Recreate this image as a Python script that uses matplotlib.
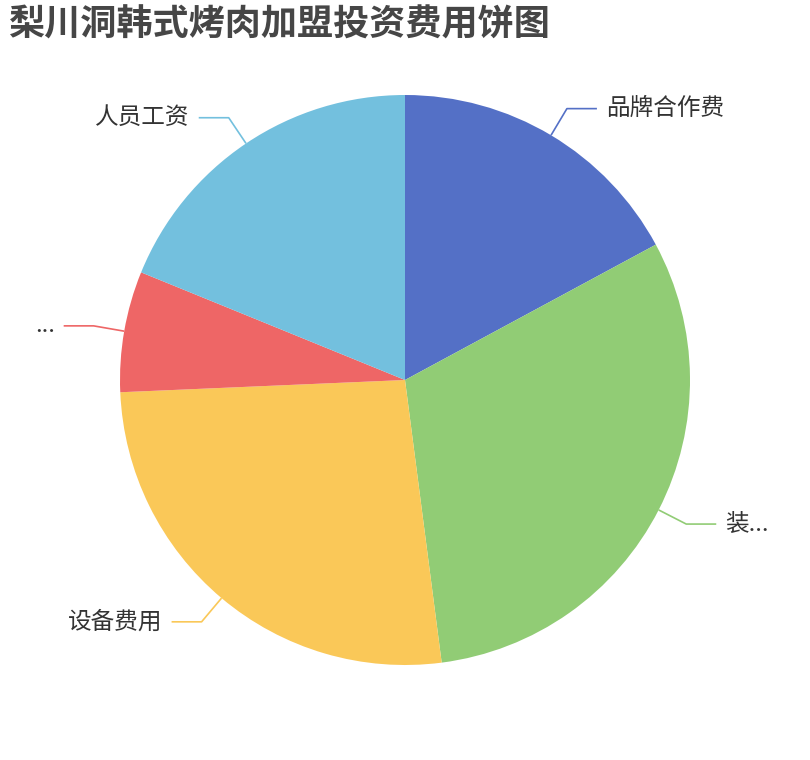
import numpy as np
import matplotlib.pyplot as plt

plt.rcParams['font.family'] = ['Noto Sans CJK SC', 'DejaVu Sans']

# 费用构成（读图估计，单位：万元）
labels = ['品牌合作费', '装...', '设备费用', '...', '人员工资']
values = [5, 9, 7.7, 2, 5.5]
colors = ['#5470c6', '#91cc75', '#fac858', '#ee6666', '#73c0de']

W, H = 810, 760
fig = plt.figure(figsize=(W / 100, H / 100), dpi=100)
ax = fig.add_axes([0, 0, 1, 1])

cx, cy, r = 405, H - 380, 285
wedges, _ = ax.pie(values, colors=colors, startangle=90, counterclock=False,
                   center=(cx, cy), radius=r, frame=True,
                   wedgeprops=dict(linewidth=0))

# label lines: radial segment then horizontal segment
len1, len2 = 31, 30
for w, lab, col in zip(wedges, labels, colors):
    mid = np.deg2rad((w.theta1 + w.theta2) / 2)
    x0, y0 = cx + r * np.cos(mid), cy + r * np.sin(mid)
    x1, y1 = cx + (r + len1) * np.cos(mid), cy + (r + len1) * np.sin(mid)
    side = 1 if np.cos(mid) >= 0 else -1
    x2 = x1 + side * len2
    ax.plot([x0, x1, x2], [y0, y1, y1], color=col, lw=1.2,
            solid_capstyle='butt')
    ax.text(x2 + side * 9, y1, lab, ha='left' if side > 0 else 'right',
            va='center', fontsize=17, color='#333333')

ax.set_xlim(0, W)
ax.set_ylim(0, H)
ax.set_aspect('equal')
ax.axis('off')

fig.text(9 / W, 1 - 25 / H, '梨川洞韩式烤肉加盟投资费用饼图', fontsize=26,
         fontweight='bold', color='#464646', ha='left', va='center')

fig.savefig('out.png', dpi=100, facecolor='white')
